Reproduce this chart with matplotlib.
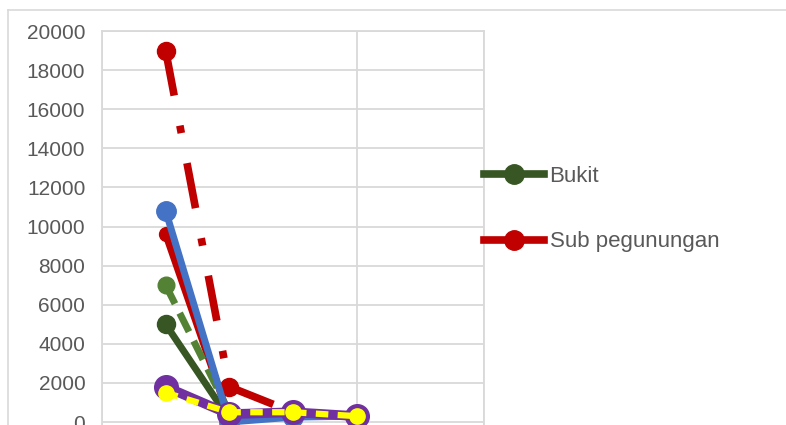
import matplotlib
matplotlib.use("Agg")
import matplotlib.pyplot as plt
from matplotlib.lines import Line2D

# x positions of the four observations
x_vals = [1, 2, 3, 4]

# series values
bukit = [5000, 150, 400, 250]
sub_pegunungan = [19000, 1800, 500, 300]
red_solid = [9600, 200, 400, 300]
green_light = [7000, 500, 400, 300]
blue = [10800, 0, 250, 300]
purple = [1800, 400, 500, 300]
yellow = [1500, 500, 500, 300]

y_ticks = [0, 2000, 4000, 6000, 8000, 10000, 12000, 14000, 16000, 18000, 20000]

plt.rcParams['font.family'] = ['Liberation Sans', 'DejaVu Sans']

fig = plt.figure(figsize=(7.86, 4.25), dpi=100)
# outer chart border (top and left visible)
fig.add_artist(Line2D([8 / 786, 8 / 786], [0, 1 - 10 / 425], color="#d9d9d9", lw=1.2))
fig.add_artist(Line2D([8 / 786, 1], [1 - 10 / 425, 1 - 10 / 425], color="#d9d9d9", lw=1.2))

ax = fig.add_axes([102 / 786, 0, 382 / 786, 1 - 31 / 425])

ax.plot(x_vals, bukit, color="#375623", lw=5, marker="o", ms=13, zorder=3)
ax.plot(x_vals, red_solid, color="#c00000", lw=5, marker="o", ms=10, zorder=2)
ax.plot(x_vals, green_light, color="#548235", lw=5, ls=(0, (3, 1.5)), marker="o", ms=12, zorder=2)
ax.plot(x_vals, blue, color="#4472c4", lw=5, marker="o", ms=14, zorder=4)
ax.plot(x_vals, sub_pegunungan, color="#c00000", lw=5.5, ls=(0, (6, 4, 1, 4)), marker="o",
        ms=13, zorder=3)
ax.plot(x_vals, purple, color="#7030a0", lw=7, marker="o", ms=17, zorder=5)
ax.plot(x_vals, yellow, color="#ffff00", lw=4.5, ls=(0, (2, 1.5)), marker="o", ms=11,
        zorder=6)

ax.set_xlim(0, 6)
ax.set_ylim(-153, 20000)
ax.set_xticks([0, 4, 6])
ax.set_yticks(y_ticks)
ax.tick_params(axis="x", length=0, labelbottom=False)
ax.tick_params(axis="y", length=0, pad=12, labelsize=15, labelcolor="#595959")
ax.grid(True, color="#d9d9d9", lw=1.3)
ax.set_axisbelow(True)
for side in ["top", "right", "left"]:
    ax.spines[side].set_color("#d9d9d9")
    ax.spines[side].set_linewidth(1.3)
ax.spines["bottom"].set_visible(False)

handles = [
    Line2D([], [], color="#375623", lw=5.5, marker="o", ms=14),
    Line2D([], [], color="#c00000", lw=5.5, marker="o", ms=14),
]
leg = fig.legend(handles, ["Bukit", "Sub pegunungan"], loc="upper left",
                 bbox_to_anchor=(464 / 786, 1 - 146 / 425), frameon=False,
                 fontsize=16, handlelength=2.7, handletextpad=0.25, labelspacing=2.0)
for t in leg.get_texts():
    t.set_color("#595959")

fig.savefig("out.png", dpi=100)
